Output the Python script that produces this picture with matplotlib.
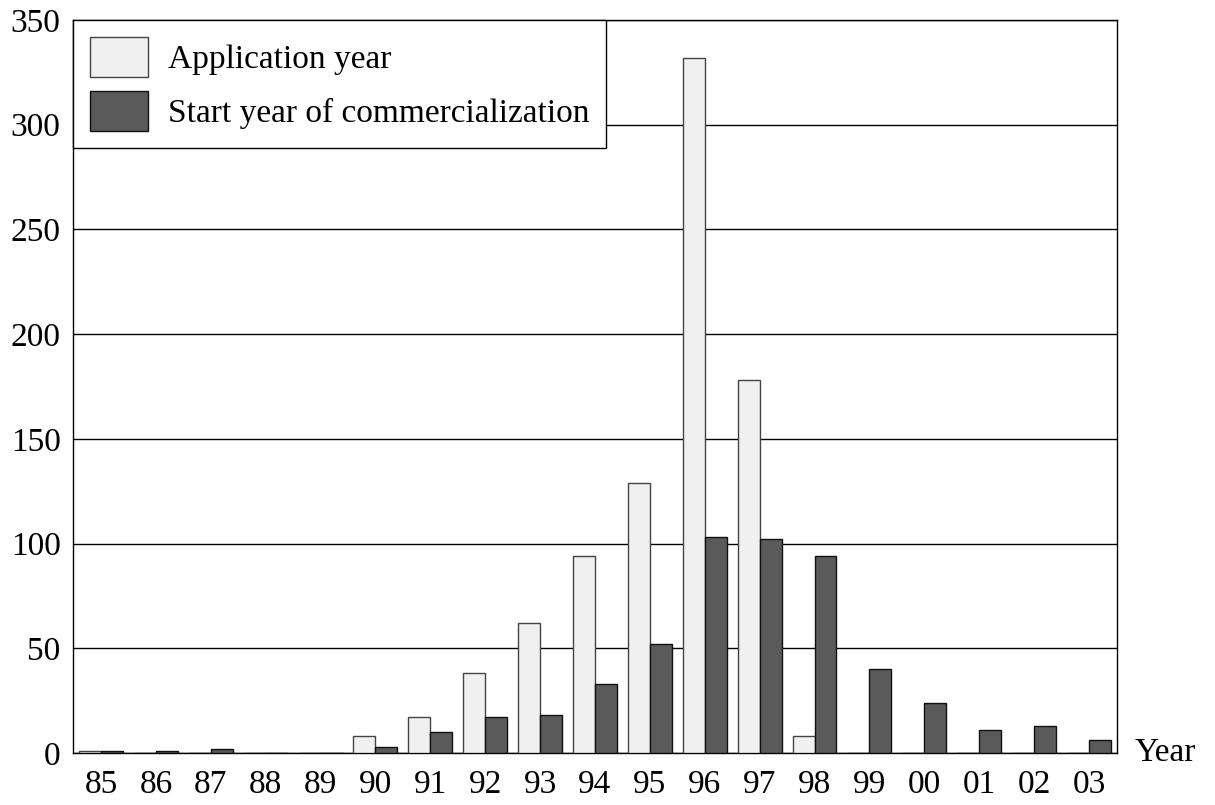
import matplotlib
matplotlib.use("Agg")
import matplotlib.pyplot as plt
import numpy as np

years = ["85", "86", "87", "88", "89", "90", "91", "92", "93", "94",
         "95", "96", "97", "98", "99", "00", "01", "02", "03"]
application = [1, 0, 0, 0, 0, 8, 17, 38, 62, 94, 129, 332, 178, 8, 0, 0, 0, 0, 0]
commercial = [1, 1, 2, 0, 0, 3, 10, 17, 18, 33, 52, 103, 102, 94, 40, 24, 11, 13, 6]
yticks = [0, 50, 100, 150, 200, 250, 300, 350]

plt.rcParams["font.family"] = ["Liberation Serif", "DejaVu Serif"]
plt.rcParams["font.size"] = 24

fig = plt.figure(figsize=(12.15, 8.05), dpi=100)
ax = fig.add_axes([0.0601, 0.0646, 0.8592, 0.9106])

x = np.arange(len(years))
w = 0.4
ax.bar(x - w / 2, application, w, color="#f0f0f0", edgecolor="#444444",
       linewidth=1, label="Application year", zorder=3)
ax.bar(x + w / 2, commercial, w, color="#5a5a5a", edgecolor="#111111",
       linewidth=1, label="Start year of commercialization", zorder=3)

ax.set_xlim(-0.51, len(years) - 0.49)
ax.set_ylim(0, 350)
ax.set_yticks(yticks)
ax.set_xticks(x)
ax.set_xticklabels(years)
ax.tick_params(length=0)
ax.tick_params(axis="y", pad=9)
ax.tick_params(axis="x", pad=12)
ax.yaxis.grid(True, color="black", linewidth=1)
ax.set_axisbelow(True)
for s in ax.spines.values():
    s.set_color("black")
    s.set_linewidth(1)

# axis label sits at the right end of the x axis
ax.text(1.017, 0, "Year", transform=ax.transAxes, ha="left", va="center")

leg = ax.legend(loc="upper left", bbox_to_anchor=(0, 1), borderaxespad=0,
                fancybox=False, framealpha=1, edgecolor="black",
                handlelength=1.75, handleheight=1.5, labelspacing=0.4,
                handletextpad=0.6, borderpad=0.5)
leg.get_frame().set_linewidth(1)
leg.set_zorder(5)

fig.savefig("out.png", dpi=100)
